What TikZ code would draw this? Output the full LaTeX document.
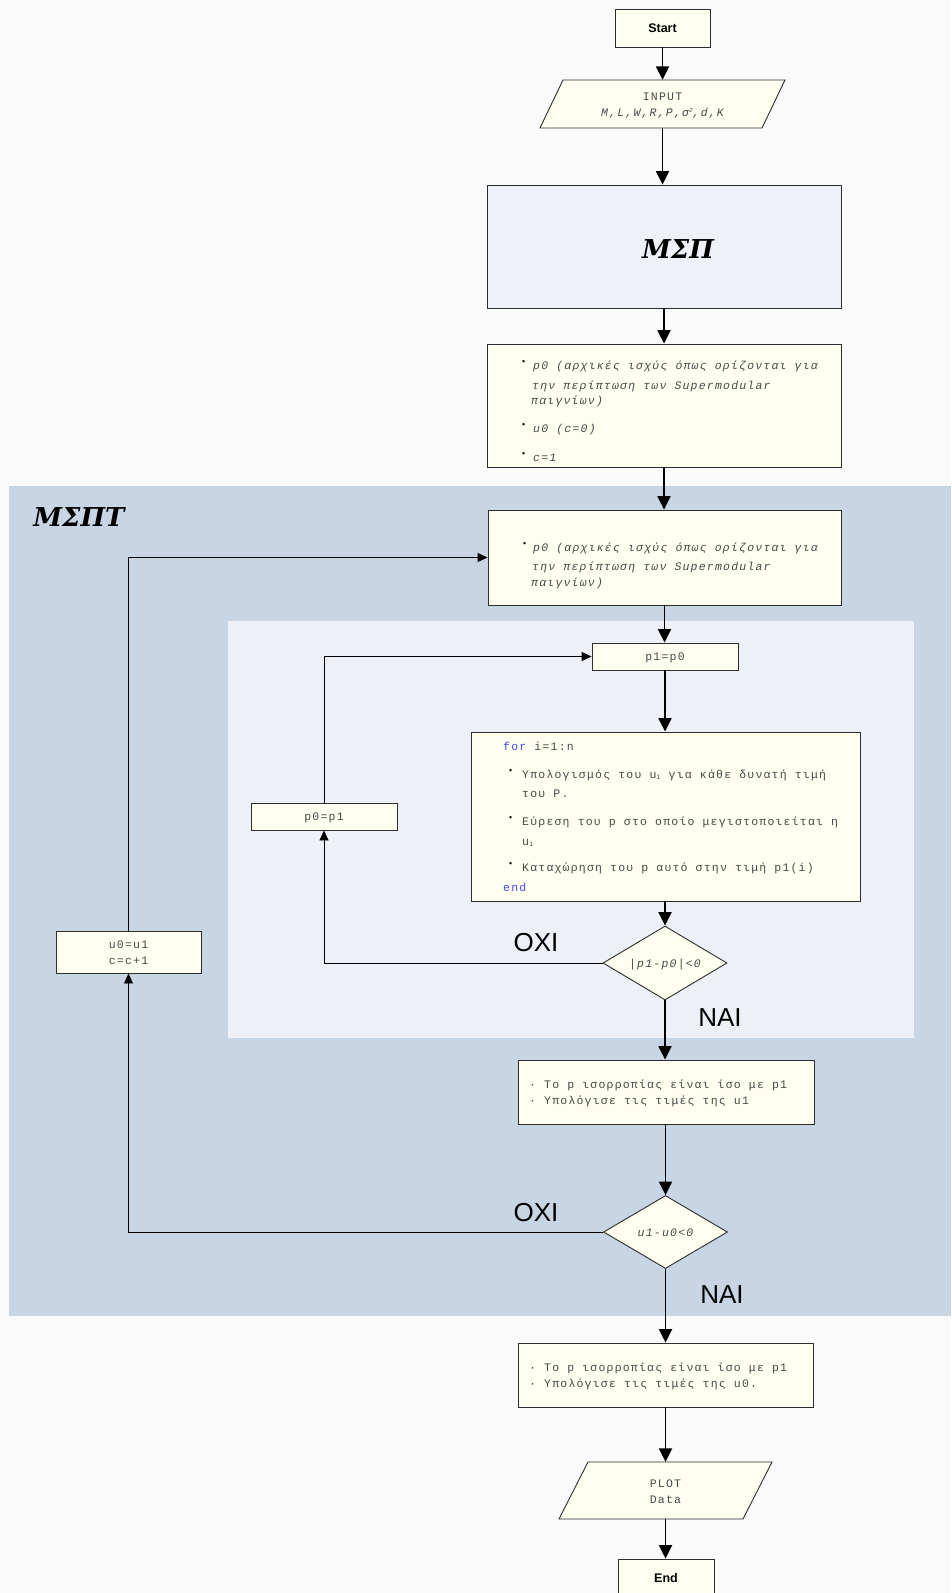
\documentclass[tikz,border=0pt]{standalone}
\usepackage{fontspec}
\setmainfont{Liberation Serif}
\newfontfamily\mono{Liberation Mono}[LetterSpace=10.5]
\newfontfamily\sansf{Liberation Sans}
\newfontfamily\titlef{DejaVu Serif}
\usetikzlibrary{arrows.meta,shapes.geometric}
\definecolor{bgc}{RGB}{250,250,250}
\definecolor{outerc}{RGB}{200,213,229}
\definecolor{innerc}{RGB}{237,241,247}
\definecolor{mspc}{RGB}{238,241,248}
\definecolor{cream}{RGB}{255,255,239}
\definecolor{bordc}{RGB}{45,45,45}
\definecolor{tgrey}{RGB}{72,72,72}
\definecolor{kwblue}{RGB}{70,70,240}
\tikzset{
  box/.style={draw=bordc, line width=0.9pt, fill=cream, inner sep=0pt},
  boxline/.style={draw=bordc, line width=0.9pt, fill=cream},
  txt/.style={anchor=base west, inner sep=0pt, text=tgrey, font=\mono\fontsize{11.5}{13}\selectfont},
  ctxt/.style={txt, anchor=base},
  bul/.style={anchor=base west, inner sep=0pt, text=black, font=\mono\fontsize{8.5}{8.5}\selectfont},
  yesno/.style={inner sep=0pt, text=black, font=\sansf\fontsize{26}{30}\selectfont},
  mainarrow/.style={draw=black, line width=1.8pt, -{Triangle[length=13.5pt,width=13pt]}},
  looparrow/.style={draw=black, line width=0.9pt, -{Triangle[length=10pt,width=9pt]}},
  title/.style={inner sep=0pt, text=black, font=\titlef\bfseries\itshape\fontsize{26}{30}\selectfont}
}
\newcommand{\subi}{\raisebox{-1.5pt}{\fontsize{7}{7}\selectfont i}}
\begin{document}
\begin{tikzpicture}[x=1pt,y=-1pt]
\useasboundingbox (0,0) rectangle (951,1593);
\fill[bgc] (0,0) rectangle (951,1593);
\fill[outerc] (9,486) rectangle (951,1316);
\fill[innerc] (228,621) rectangle (914,1038);
\node[title] (mspt) at (79,517) {ΜΣΠΤ};

% Start
\node[box, minimum width=95pt, minimum height=38pt, font=\sansf\bfseries\fontsize{12.5}{14}\selectfont] (start) at (662.5,28) {Start};

% INPUT
\node[inner sep=0pt, minimum width=199pt, minimum height=48pt] (input) at (662.5,104) {};
\draw[boxline] (563,80) -- (785,80) -- (762,128) -- (540,128) -- cycle;
\node[ctxt] (inputa) at (662.5,100) {INPUT};
\node[ctxt] (inputb) at (662.5,116) {\itshape M,L,W,R,P,σ\raisebox{4pt}{\fontsize{6}{6}\selectfont 2},d,K};

% MSP
\node[box, fill=mspc, minimum width=354pt, minimum height=123pt] (msp) at (664,246.5) {};
\node[title] (msplabel) at (678,249) {ΜΣΠ};

% init box
\node[box, minimum width=354pt, minimum height=123pt] (init) at (664,405.5) {};
\node[bul] (b1) at (521,364) {•};
\node[txt] (i1) at (533,369) {\itshape p0 (αρχικές ισχύς όπως ορίζονται για};
\node[txt] (i2) at (532,389) {\itshape την περίπτωση των Supermodular};
\node[txt] (i3) at (531,404) {\itshape παιγνίων)};
\node[bul] (b2) at (521,427) {•};
\node[txt] (i4) at (533,432) {\itshape u0 (c=0)};
\node[bul] (b3) at (521,456) {•};
\node[txt] (i5) at (533,461) {\itshape c=1};

% init2 box
\node[box, minimum width=353pt, minimum height=95pt] (init2) at (664.5,557.5) {};
\node[bul] (b4) at (522,546) {•};
\node[txt] (j1) at (533,551) {\itshape p0 (αρχικές ισχύς όπως ορίζονται για};
\node[txt] (j2) at (532,570) {\itshape την περίπτωση των Supermodular};
\node[txt] (j3) at (531,586) {\itshape παιγνίων)};

% p1=p0
\node[box, minimum width=146pt, minimum height=27pt] (p1p0) at (665,656.5) {};
\node[ctxt] (p1p0t) at (665,660.5) {p1=p0};

% for box
\node[box, minimum width=389pt, minimum height=169pt] (forbox) at (665.5,816.5) {};
\node[txt] (f1) at (503,750) {\textcolor{kwblue}{for} i=1:n};
\node[bul] (b5) at (508,773) {•};
\node[txt] (f2) at (522,778) {Υπολογισμός του u\subi{} για κάθε δυνατή τιμή};
\node[txt] (f3) at (522,797) {του P.};
\node[bul] (b6) at (508,820) {•};
\node[txt] (f4) at (522,825) {Εύρεση του p στο οποίο μεγιστοποιείται η};
\node[txt] (f5) at (522,845) {u\subi};
\node[bul] (b7) at (508,866) {•};
\node[txt] (f6) at (522,871) {Καταχώρηση του p αυτό στην τιμή p1(i)};
\node[txt, text=kwblue] (f7) at (503,891) {end};

% p0=p1
\node[box, minimum width=146pt, minimum height=27pt] (p0p1) at (324,816.5) {};
\node[ctxt] (p0p1t) at (324,820.5) {p0=p1};

% diamond 1
\node[diamond, draw=bordc, line width=0.9pt, fill=cream, inner sep=0pt, minimum width=124pt, minimum height=74pt] (dia1) at (665,963) {};
\node[ctxt] (dia1t) at (665,967) {\itshape |p1-p0|<0};
\node[yesno] (oxi1) at (536,943) {OXI};
\node[yesno] (nai1) at (720,1018) {NAI};

% result 1
\node[box, minimum width=296pt, minimum height=64pt] (res1) at (666,1092) {};
\node[txt] (r1d) at (529,1088) {·};
\node[txt] (r1) at (544,1088) {Το p ισορροπίας είναι ίσο με p1};
\node[txt] (r2d) at (529,1104) {·};
\node[txt] (r2) at (544,1104) {Υπολόγισε τις τιμές της u1};

% diamond 2
\node[diamond, draw=bordc, line width=0.9pt, fill=cream, inner sep=0pt, minimum width=124pt, minimum height=73pt] (dia2) at (665.5,1232) {};
\node[ctxt] (dia2t) at (665.5,1236) {\itshape u1-u0<0};
\node[yesno] (oxi2) at (536,1213) {OXI};
\node[yesno] (nai2) at (722,1295) {NAI};

% u0=u1
\node[box, minimum width=145pt, minimum height=42pt] (u0u1) at (128.5,952) {};
\node[ctxt] (u0u1a) at (128.5,948) {u0=u1};
\node[ctxt] (u0u1b) at (128.5,964) {c=c+1};

% result 2
\node[box, minimum width=295pt, minimum height=64pt] (res2) at (665.5,1375) {};
\node[txt] (s1d) at (529,1371) {·};
\node[txt] (s1) at (544,1371) {Το p ισορροπίας είναι ίσο με p1};
\node[txt] (s2d) at (529,1387) {·};
\node[txt] (s2) at (544,1387) {Υπολόγισε τις τιμές της u0.};

% PLOT
\node[inner sep=0pt, minimum width=213pt, minimum height=57pt] (plot) at (665.5,1490.5) {};
\draw[boxline] (588,1462) -- (772,1462) -- (743,1519) -- (559,1519) -- cycle;
\node[ctxt] (plota) at (665.5,1487) {PLOT};
\node[ctxt] (plotb) at (665.5,1503) {Data};

% End
\node[box, minimum width=96pt, minimum height=38pt, font=\sansf\bfseries\fontsize{12.5}{14}\selectfont] (end) at (666,1578) {End};

% main connectors
\draw[mainarrow] (start.south) -- (start.south |- input.north);
\draw[mainarrow] (input.south) -- (input.south |- msp.north);
\draw[mainarrow] (msp.south) -- (msp.south |- init.north);
\draw[mainarrow] (init.south) -- (init.south |- init2.north);
\draw[mainarrow] (init2.south) -- (init2.south |- p1p0.north);
\draw[mainarrow] (p1p0.south) -- (p1p0.south |- forbox.north);
\draw[mainarrow] (forbox.south -| dia1.north) -- (dia1.north);
\draw[mainarrow] (dia1.south) -- (dia1.south |- res1.north);
\draw[mainarrow] (res1.south -| dia2.north) -- (dia2.north);
\draw[mainarrow] (dia2.south) -- (dia2.south |- res2.north);
\draw[mainarrow] (res2.south) -- (res2.south |- plot.north);
\draw[mainarrow] (plot.south) -- (plot.south |- end.north);

% loops
\draw[looparrow] (dia1.west) -| (p0p1.south);
\draw[looparrow] (p0p1.north) |- (p1p0.west);
\draw[looparrow] (dia2.west) -| (u0u1.south);
\draw[looparrow] (u0u1.north) |- (init2.west);
\end{tikzpicture}
\end{document}
